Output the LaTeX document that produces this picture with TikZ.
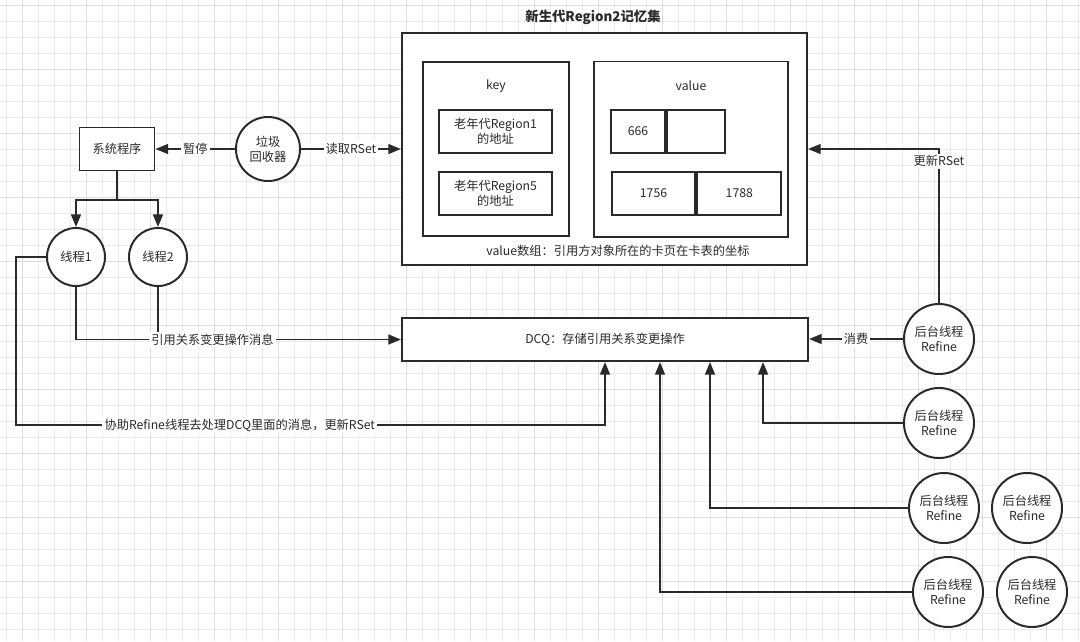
\documentclass[tikz,border=0pt]{standalone}
\usepackage{fontspec}
\setmainfont{Noto Sans CJK SC}
\usetikzlibrary{arrows.meta, positioning}
\definecolor{gridminor}{HTML}{EBEBEB}
\definecolor{gridmajor}{HTML}{DDDDDD}
\definecolor{ink}{HTML}{2A2A2A}

\begin{document}
\begin{tikzpicture}[x=0.025cm, y=-0.025cm, >={Triangle[length=9pt,width=7pt]},
        line width=1.4pt, color=ink, font=\fontsize{8.7}{10.5}\selectfont,
        box/.style={draw, fill=white, inner sep=0pt, align=center},
        proc/.style={draw, fill=white, circle, inner sep=0pt, align=center},
        lbl/.style={fill=white, inner sep=1.5pt}]

        % --- Background grid ---
        \useasboundingbox (0,0) rectangle (1080,641);
        \fill[white] (0,0) rectangle (1080,641);
        \foreach \gx in {0,...,67} \draw[gridminor, line width=0.5pt] (6.3+16*\gx,0) -- (6.3+16*\gx,641);
        \foreach \gy in {0,...,40} \draw[gridminor, line width=0.5pt] (0,5.3+16*\gy) -- (1080,5.3+16*\gy);
        \foreach \gx in {0,...,16} \draw[gridmajor, line width=0.6pt] (22.3+64*\gx,0) -- (22.3+64*\gx,641);
        \foreach \gy in {0,...,10} \draw[gridmajor, line width=0.6pt] (0,5.3+64*\gy) -- (1080,5.3+64*\gy);

        % --- Remembered set ---
        \node[font=\bfseries\fontsize{9.5}{11}\selectfont] (title) at (593,17) {新生代Region2记忆集};
        \node[box, minimum width=10.125cm, minimum height=5.8cm] (rset) at (604.5,149) {};
        \node[box, minimum width=3.65cm, minimum height=4.35cm] (keybox) at (496,149) {};
        \node (keylabel) at (496,86) {key};
        \node[box, minimum width=2.825cm, minimum height=1.075cm] (key1) at (495.5,131.5) {老年代Region1\\的地址};
        \node[box, minimum width=2.825cm, minimum height=1.075cm] (key2) at (495.5,193.5) {老年代Region5\\的地址};
        \node[box, minimum width=4.85cm, minimum height=4.375cm] (valbox) at (691,149) {};
        \node (vallabel) at (691,86) {value};
        \node[box, minimum width=1.35cm, minimum height=1.075cm] (c666) at (638,131.5) {666};
        \node[box, minimum width=1.45cm, minimum height=1.075cm, right=0pt of c666] (cempty) {};
        \node[box, minimum width=2.09cm, minimum height=1.075cm] (c1756) at (653.5,193.5) {1756};
        \node[box, minimum width=2.1cm, minimum height=1.075cm, right=0pt of c1756] (c1788) {1788};
        \node (valnote) at (618,251) {value数组：引用方对象所在的卡页在卡表的坐标};

        % --- GC and threads ---
        \node[box, minimum width=1.875cm, minimum height=1.075cm] (sys) at (117,149) {系统程序};
        \node[proc, minimum size=1.6cm] (gc) at (268,149) {垃圾\\回收器};
        \node[proc, minimum size=1.45cm] (t1) at (76,257) {线程1};
        \node[proc, minimum size=1.45cm] (t2) at (158,257) {线程2};
        \coordinate (split) at (117,200);
        \coordinate (helpturn) at (16,425);

        % --- DCQ and Refine threads ---
        \node[box, minimum width=10.15cm, minimum height=1.075cm] (dcq) at (605,339.5) {DCQ：存储引用关系变更操作};
        \node[proc, minimum size=1.75cm] (rf1) at (939,339) {后台线程\\Refine};
        \node[proc, minimum size=1.75cm] (rf2) at (939,423) {后台线程\\Refine};
        \node[proc, minimum size=1.75cm] (rf3) at (944,508) {后台线程\\Refine};
        \node[proc, minimum size=1.75cm] (rf4) at (1027,508) {后台线程\\Refine};
        \node[proc, minimum size=1.75cm] (rf5) at (948,592) {后台线程\\Refine};
        \node[proc, minimum size=1.75cm] (rf6) at (1032,592) {后台线程\\Refine};

        % --- Connectors ---
        \draw[->] (gc) -- node[lbl] {暂停} (sys);
        \draw[->] (gc) -- node[lbl] {读取RSet} (rset);
        \draw (sys.south) -- (split);
        \draw[->] (split) -| (t1.north);
        \draw[->] (split) -| (t2.north);
        \draw (t2.south) -- (t2.south |- dcq.west);
        \draw[->] (t1.south) |- node[lbl, pos=0.71] {引用关系变更操作消息} (dcq.west);
        \draw[->] (t1.west) -| (helpturn) -| node[lbl, pos=0.19] {协助Refine线程去处理DCQ里面的消息，更新RSet} (dcq.south);
        \draw[->] (rf1.west) -- node[lbl] {消费} (dcq.east |- rf1.west);
        \draw[->] (rf1.north) |- node[lbl, pos=0.46] {更新RSet} (rset.east);
        \draw[->] (rf2.west) -| ([xshift=3.95cm]dcq.south);
        \draw[->] (rf3.west) -| ([xshift=2.625cm]dcq.south);
        \draw[->] (rf5.west) -| ([xshift=1.375cm]dcq.south);

    \end{tikzpicture}
\end{document}
